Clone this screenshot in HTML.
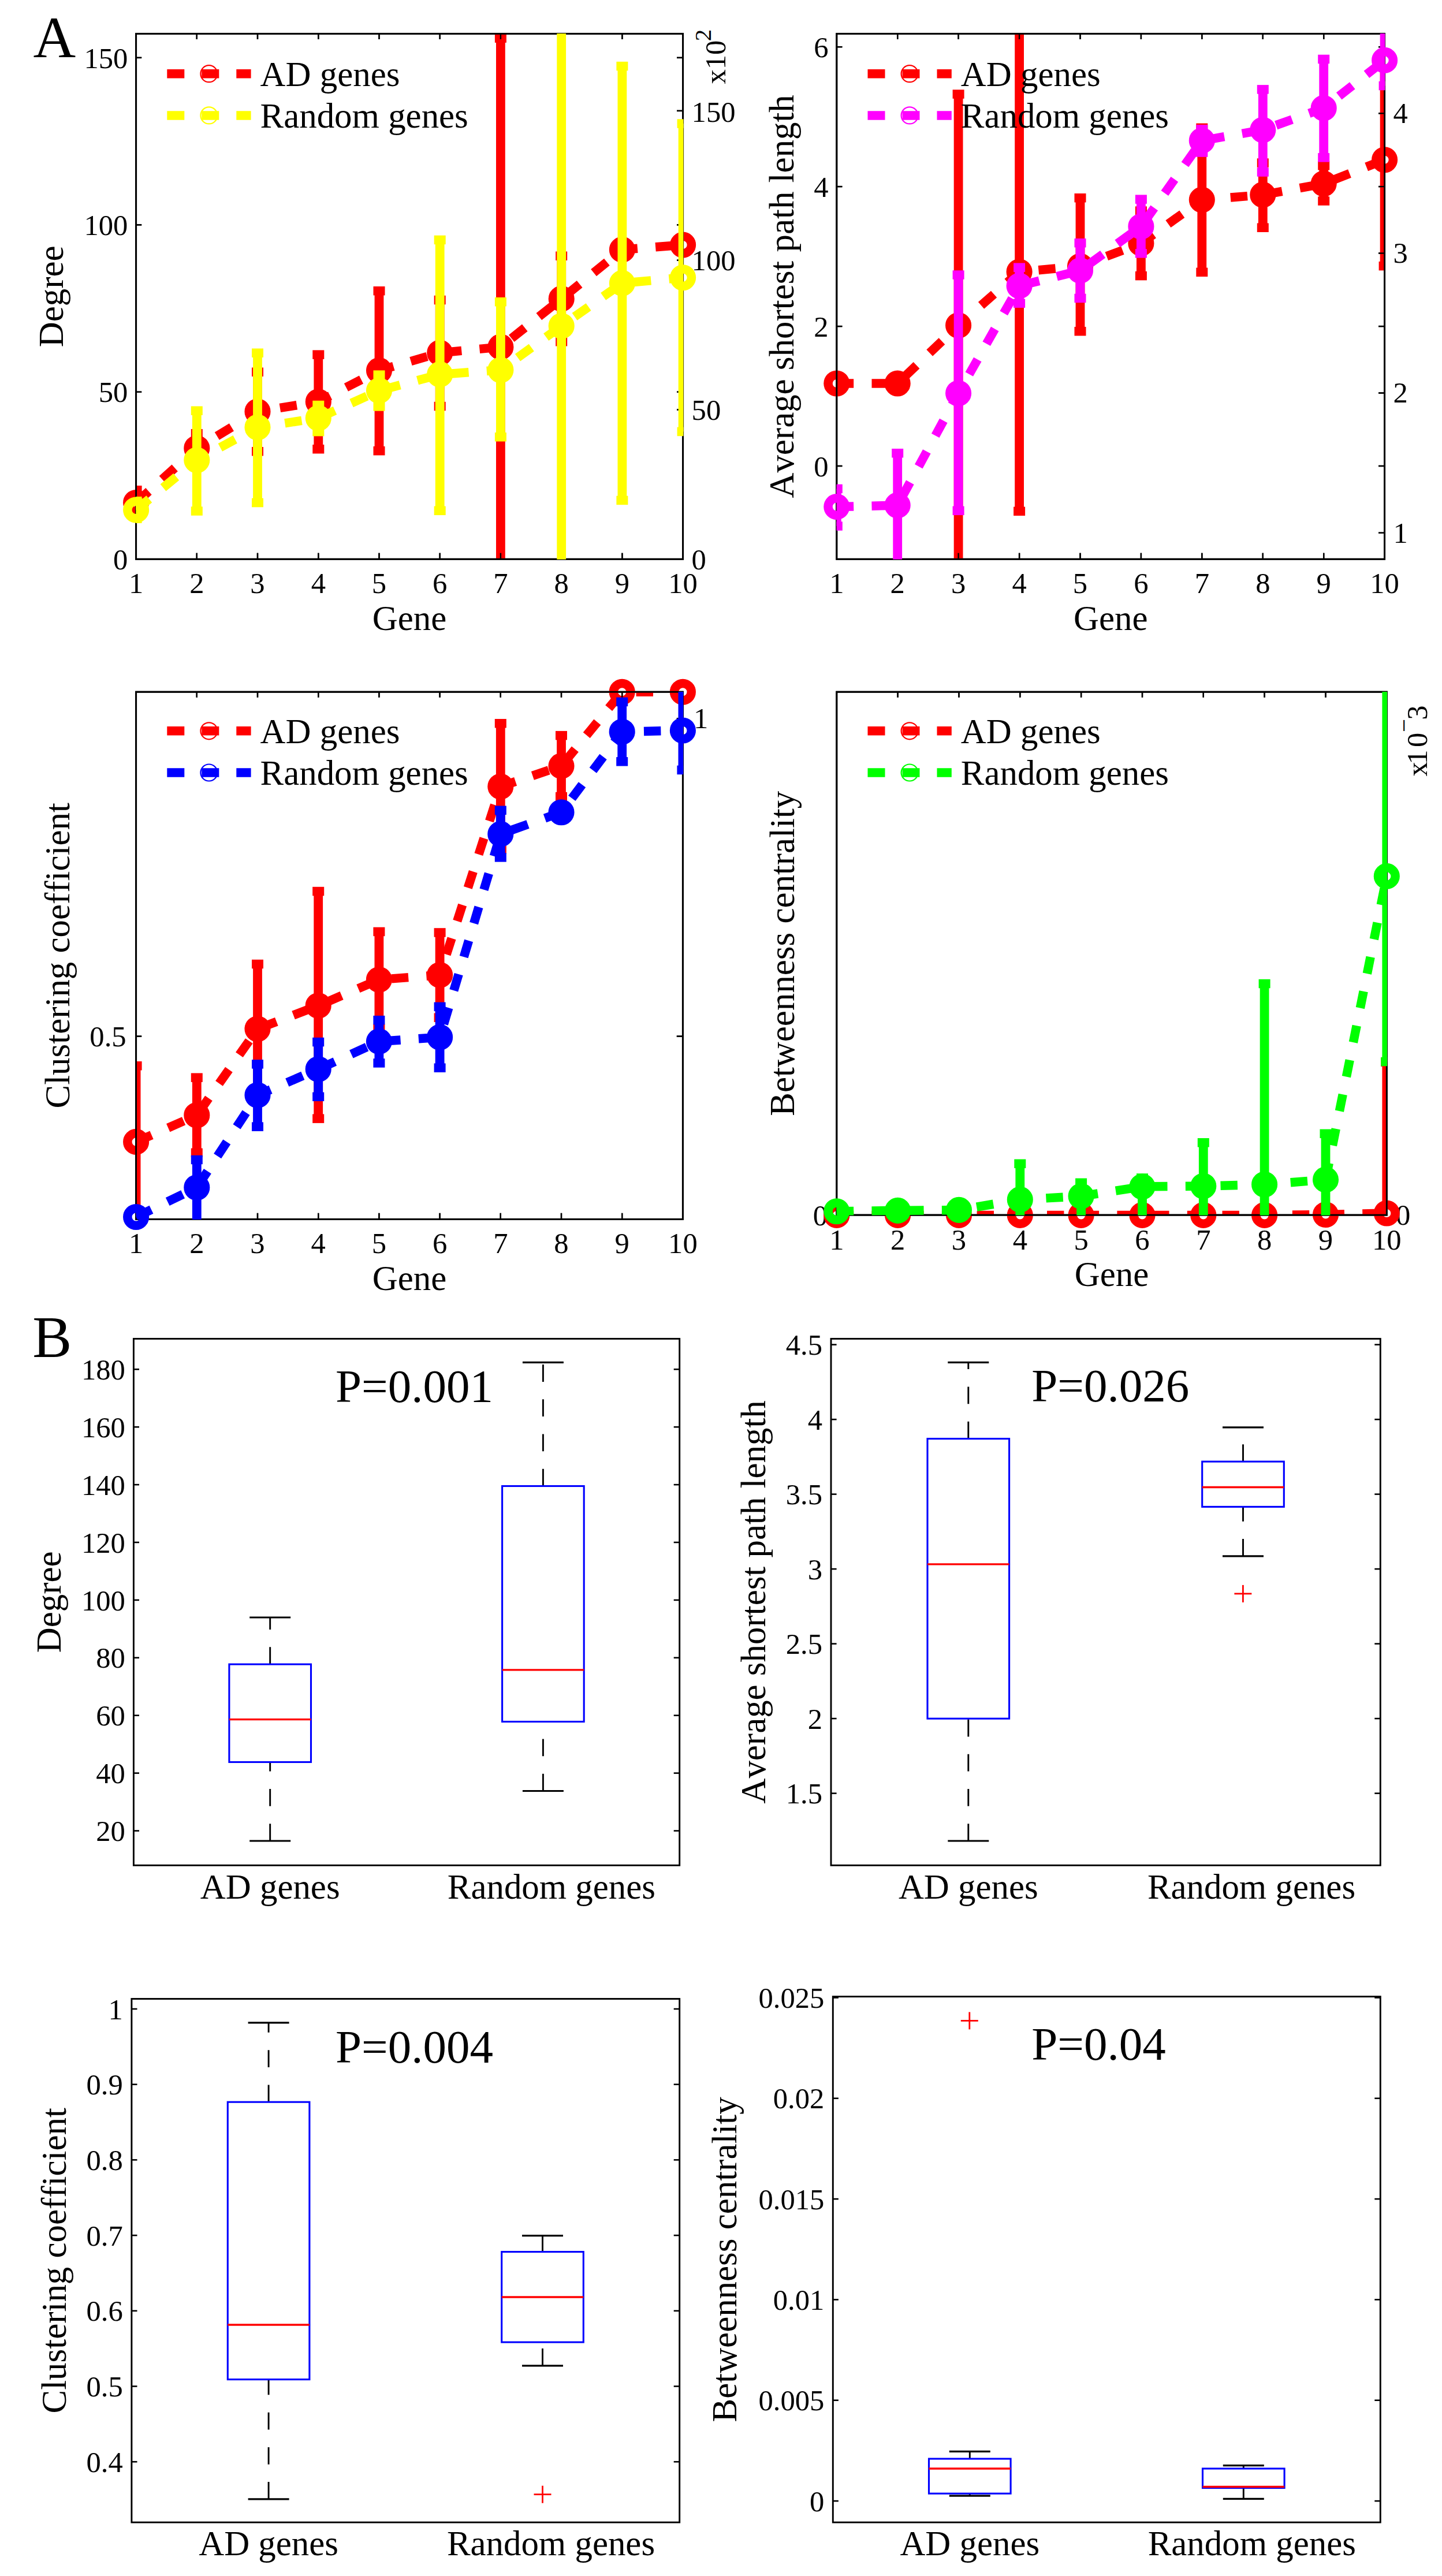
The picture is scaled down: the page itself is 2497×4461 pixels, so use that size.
<!DOCTYPE html>
<html><head><meta charset="utf-8"><title>Figure</title>
<style>html,body{margin:0;padding:0;background:#fff}svg{display:block}text{font-family:"Liberation Serif", serif;fill:#000;font-kerning:none;font-variant-ligatures:none}</style></head>
<body>
<svg width="2497" height="4461" viewBox="0 0 2497 4461">
<rect width="2497" height="4461" fill="#fff"/>
<defs><clipPath id="c1"><rect x="235.3" y="58.1" width="948.1" height="910.7"/></clipPath><clipPath id="c2"><rect x="1448.5" y="58.1" width="949.9" height="910.7"/></clipPath><clipPath id="c3"><rect x="235.3" y="1197.9" width="947.9" height="914"/></clipPath><clipPath id="c4"><rect x="1448.5" y="1197.9" width="953.6" height="906.7"/></clipPath></defs>
<rect x="235.6" y="58.4" width="947" height="909.9" fill="none" stroke="#000" stroke-width="2.9"/>
<line x1="340.8" y1="968.3" x2="340.8" y2="957.7" stroke="#000" stroke-width="2.4"/>
<line x1="340.8" y1="58.4" x2="340.8" y2="68" stroke="#000" stroke-width="2.4"/>
<line x1="446" y1="968.3" x2="446" y2="957.7" stroke="#000" stroke-width="2.4"/>
<line x1="446" y1="58.4" x2="446" y2="68" stroke="#000" stroke-width="2.4"/>
<line x1="551.3" y1="968.3" x2="551.3" y2="957.7" stroke="#000" stroke-width="2.4"/>
<line x1="551.3" y1="58.4" x2="551.3" y2="68" stroke="#000" stroke-width="2.4"/>
<line x1="656.5" y1="968.3" x2="656.5" y2="957.7" stroke="#000" stroke-width="2.4"/>
<line x1="656.5" y1="58.4" x2="656.5" y2="68" stroke="#000" stroke-width="2.4"/>
<line x1="761.7" y1="968.3" x2="761.7" y2="957.7" stroke="#000" stroke-width="2.4"/>
<line x1="761.7" y1="58.4" x2="761.7" y2="68" stroke="#000" stroke-width="2.4"/>
<line x1="866.9" y1="968.3" x2="866.9" y2="957.7" stroke="#000" stroke-width="2.4"/>
<line x1="866.9" y1="58.4" x2="866.9" y2="68" stroke="#000" stroke-width="2.4"/>
<line x1="972.2" y1="968.3" x2="972.2" y2="957.7" stroke="#000" stroke-width="2.4"/>
<line x1="972.2" y1="58.4" x2="972.2" y2="68" stroke="#000" stroke-width="2.4"/>
<line x1="1077.4" y1="968.3" x2="1077.4" y2="957.7" stroke="#000" stroke-width="2.4"/>
<line x1="1077.4" y1="58.4" x2="1077.4" y2="68" stroke="#000" stroke-width="2.4"/>
<line x1="235.6" y1="99.9" x2="245.2" y2="99.9" stroke="#000" stroke-width="2.4"/>
<line x1="1182.6" y1="99.9" x2="1172" y2="99.9" stroke="#000" stroke-width="2.4"/>
<line x1="235.6" y1="389.4" x2="245.2" y2="389.4" stroke="#000" stroke-width="2.4"/>
<line x1="1182.6" y1="389.4" x2="1172" y2="389.4" stroke="#000" stroke-width="2.4"/>
<line x1="235.6" y1="678.8" x2="245.2" y2="678.8" stroke="#000" stroke-width="2.4"/>
<line x1="1182.6" y1="678.8" x2="1172" y2="678.8" stroke="#000" stroke-width="2.4"/>
<line x1="1182.6" y1="191.9" x2="1172" y2="191.9" stroke="#000" stroke-width="2.4"/>
<line x1="1182.6" y1="450.7" x2="1172" y2="450.7" stroke="#000" stroke-width="2.4"/>
<line x1="1182.6" y1="709.5" x2="1172" y2="709.5" stroke="#000" stroke-width="2.4"/>
<text x="221.3" y="117.5" font-size="50.6" text-anchor="end">150</text>
<text x="221.3" y="407" font-size="50.6" text-anchor="end">100</text>
<text x="221.3" y="696.4" font-size="50.6" text-anchor="end">50</text>
<text x="221.3" y="985.9" font-size="50.6" text-anchor="end">0</text>
<text x="1197.6" y="210.7" font-size="50.6" text-anchor="start">150</text>
<text x="1197.6" y="467.5" font-size="50.6" text-anchor="start">100</text>
<text x="1197.6" y="727" font-size="50.6" text-anchor="start">50</text>
<text x="1197.6" y="985.6" font-size="50.6" text-anchor="start">0</text>
<text x="235.6" y="1027.2" font-size="50.6" text-anchor="middle">1</text>
<text x="340.8" y="1027.2" font-size="50.6" text-anchor="middle">2</text>
<text x="446" y="1027.2" font-size="50.6" text-anchor="middle">3</text>
<text x="551.3" y="1027.2" font-size="50.6" text-anchor="middle">4</text>
<text x="656.5" y="1027.2" font-size="50.6" text-anchor="middle">5</text>
<text x="761.7" y="1027.2" font-size="50.6" text-anchor="middle">6</text>
<text x="866.9" y="1027.2" font-size="50.6" text-anchor="middle">7</text>
<text x="972.2" y="1027.2" font-size="50.6" text-anchor="middle">8</text>
<text x="1077.4" y="1027.2" font-size="50.6" text-anchor="middle">9</text>
<text x="1182.6" y="1027.2" font-size="50.6" text-anchor="middle">10</text>
<g clip-path="url(#c1)" stroke="#ff0000" fill="#ff0000"><line x1="235.6" y1="848.8" x2="235.6" y2="892.2" stroke-width="15.8"/><rect x="225.6" y="841" width="20" height="15.5" stroke="none"/><rect x="225.6" y="884.5" width="20" height="15.5" stroke="none"/><line x1="340.8" y1="750.8" x2="340.8" y2="801.8" stroke-width="15.8"/><rect x="330.8" y="743" width="20" height="15.5" stroke="none"/><rect x="330.8" y="794" width="20" height="15.5" stroke="none"/><line x1="446" y1="644.2" x2="446" y2="781.8" stroke-width="15.8"/><rect x="436" y="636.5" width="20" height="15.5" stroke="none"/><rect x="436" y="774" width="20" height="15.5" stroke="none"/><line x1="551.3" y1="614.1" x2="551.3" y2="777.8" stroke-width="15.8"/><rect x="541.3" y="606.4" width="20" height="15.5" stroke="none"/><rect x="541.3" y="770" width="20" height="15.5" stroke="none"/><line x1="656.5" y1="503.8" x2="656.5" y2="780.8" stroke-width="15.8"/><rect x="646.5" y="496" width="20" height="15.5" stroke="none"/><rect x="646.5" y="773" width="20" height="15.5" stroke="none"/><line x1="761.7" y1="519.5" x2="761.7" y2="703.5" stroke-width="15.8"/><rect x="751.7" y="511.8" width="20" height="15.5" stroke="none"/><rect x="751.7" y="695.8" width="20" height="15.5" stroke="none"/><line x1="866.9" y1="66.2" x2="866.9" y2="1200" stroke-width="15.8"/><rect x="856.9" y="58.4" width="20" height="15.5" stroke="none"/><line x1="972.2" y1="443.2" x2="972.2" y2="591.8" stroke-width="15.8"/><rect x="962.2" y="435.5" width="20" height="15.5" stroke="none"/><rect x="962.2" y="584" width="20" height="15.5" stroke="none"/><line x1="1077.4" y1="422.8" x2="1077.4" y2="442.2" stroke-width="15.8"/><rect x="1067.4" y="415" width="20" height="15.5" stroke="none"/><rect x="1067.4" y="434.5" width="20" height="15.5" stroke="none"/><polyline points="235.6,870.5 340.8,776.3 446,712.7 551.3,695.7 656.5,641.6 761.7,611 866.9,600.9 972.2,517.4 1077.4,432.4 1182.6,424.1" fill="none" stroke-width="15.5" stroke-dasharray="29.4 31.3" stroke-linejoin="miter"/></g>
<g fill="none" stroke="#ff0000" stroke-width="15.5"><circle cx="235.6" cy="870.5" r="14.8"/><circle cx="340.8" cy="776.3" r="14.8"/><circle cx="446" cy="712.7" r="14.8"/><circle cx="551.3" cy="695.7" r="14.8"/><circle cx="656.5" cy="641.6" r="14.8"/><circle cx="761.7" cy="611" r="14.8"/><circle cx="866.9" cy="600.9" r="14.8"/><circle cx="972.2" cy="517.4" r="14.8"/><circle cx="1077.4" cy="432.4" r="14.8"/><circle cx="1182.6" cy="424.1" r="14.8"/></g>
<rect x="235.6" y="58.4" width="947" height="909.9" fill="none" stroke="#000" stroke-width="2.9"/>
<line x1="340.8" y1="968.3" x2="340.8" y2="957.7" stroke="#000" stroke-width="2.4"/>
<line x1="340.8" y1="58.4" x2="340.8" y2="68" stroke="#000" stroke-width="2.4"/>
<line x1="446" y1="968.3" x2="446" y2="957.7" stroke="#000" stroke-width="2.4"/>
<line x1="446" y1="58.4" x2="446" y2="68" stroke="#000" stroke-width="2.4"/>
<line x1="551.3" y1="968.3" x2="551.3" y2="957.7" stroke="#000" stroke-width="2.4"/>
<line x1="551.3" y1="58.4" x2="551.3" y2="68" stroke="#000" stroke-width="2.4"/>
<line x1="656.5" y1="968.3" x2="656.5" y2="957.7" stroke="#000" stroke-width="2.4"/>
<line x1="656.5" y1="58.4" x2="656.5" y2="68" stroke="#000" stroke-width="2.4"/>
<line x1="761.7" y1="968.3" x2="761.7" y2="957.7" stroke="#000" stroke-width="2.4"/>
<line x1="761.7" y1="58.4" x2="761.7" y2="68" stroke="#000" stroke-width="2.4"/>
<line x1="866.9" y1="968.3" x2="866.9" y2="957.7" stroke="#000" stroke-width="2.4"/>
<line x1="866.9" y1="58.4" x2="866.9" y2="68" stroke="#000" stroke-width="2.4"/>
<line x1="972.2" y1="968.3" x2="972.2" y2="957.7" stroke="#000" stroke-width="2.4"/>
<line x1="972.2" y1="58.4" x2="972.2" y2="68" stroke="#000" stroke-width="2.4"/>
<line x1="1077.4" y1="968.3" x2="1077.4" y2="957.7" stroke="#000" stroke-width="2.4"/>
<line x1="1077.4" y1="58.4" x2="1077.4" y2="68" stroke="#000" stroke-width="2.4"/>
<line x1="235.6" y1="99.9" x2="245.2" y2="99.9" stroke="#000" stroke-width="2.4"/>
<line x1="1182.6" y1="99.9" x2="1172" y2="99.9" stroke="#000" stroke-width="2.4"/>
<line x1="235.6" y1="389.4" x2="245.2" y2="389.4" stroke="#000" stroke-width="2.4"/>
<line x1="1182.6" y1="389.4" x2="1172" y2="389.4" stroke="#000" stroke-width="2.4"/>
<line x1="235.6" y1="678.8" x2="245.2" y2="678.8" stroke="#000" stroke-width="2.4"/>
<line x1="1182.6" y1="678.8" x2="1172" y2="678.8" stroke="#000" stroke-width="2.4"/>
<line x1="1182.6" y1="191.9" x2="1172" y2="191.9" stroke="#000" stroke-width="2.4"/>
<line x1="1182.6" y1="450.7" x2="1172" y2="450.7" stroke="#000" stroke-width="2.4"/>
<line x1="1182.6" y1="709.5" x2="1172" y2="709.5" stroke="#000" stroke-width="2.4"/>
<g clip-path="url(#c1)" stroke="#ffff00" fill="#ffff00"><line x1="235.6" y1="867.8" x2="235.6" y2="898.2" stroke-width="15.8"/><rect x="225.6" y="860" width="20" height="15.5" stroke="none"/><rect x="225.6" y="890.5" width="20" height="15.5" stroke="none"/><line x1="340.8" y1="711.2" x2="340.8" y2="885" stroke-width="15.8"/><rect x="330.8" y="703.5" width="20" height="15.5" stroke="none"/><rect x="330.8" y="877.3" width="20" height="15.5" stroke="none"/><line x1="446" y1="611.2" x2="446" y2="870.5" stroke-width="15.8"/><rect x="436" y="603.5" width="20" height="15.5" stroke="none"/><rect x="436" y="862.8" width="20" height="15.5" stroke="none"/><line x1="551.3" y1="701.5" x2="551.3" y2="747.6" stroke-width="15.8"/><rect x="541.3" y="693.8" width="20" height="15.5" stroke="none"/><rect x="541.3" y="739.9" width="20" height="15.5" stroke="none"/><line x1="656.5" y1="649.1" x2="656.5" y2="704" stroke-width="15.8"/><rect x="646.5" y="641.4" width="20" height="15.5" stroke="none"/><rect x="646.5" y="696.2" width="20" height="15.5" stroke="none"/><line x1="761.7" y1="415.4" x2="761.7" y2="884.4" stroke-width="15.8"/><rect x="751.7" y="407.7" width="20" height="15.5" stroke="none"/><rect x="751.7" y="876.6" width="20" height="15.5" stroke="none"/><line x1="866.9" y1="522.8" x2="866.9" y2="756.8" stroke-width="15.8"/><rect x="856.9" y="515" width="20" height="15.5" stroke="none"/><rect x="856.9" y="749" width="20" height="15.5" stroke="none"/><line x1="972.2" y1="-100" x2="972.2" y2="1200" stroke-width="15.8"/><line x1="1077.4" y1="114.5" x2="1077.4" y2="866.5" stroke-width="15.8"/><rect x="1067.4" y="106.8" width="20" height="15.5" stroke="none"/><rect x="1067.4" y="858.7" width="20" height="15.5" stroke="none"/><line x1="1182.6" y1="214.1" x2="1182.6" y2="747.5" stroke-width="15.8"/><rect x="1172.6" y="206.3" width="20" height="15.5" stroke="none"/><rect x="1172.6" y="739.7" width="20" height="15.5" stroke="none"/><polyline points="235.6,883 340.8,796.7 446,740 551.3,724 656.5,676.5 761.7,648.4 866.9,640.7 972.2,564.5 1077.4,490.4 1182.6,480.8" fill="none" stroke-width="15.5" stroke-dasharray="29.4 31.3" stroke-linejoin="miter"/></g>
<g fill="none" stroke="#ffff00" stroke-width="15.5"><circle cx="235.6" cy="883" r="14.8"/><circle cx="340.8" cy="796.7" r="14.8"/><circle cx="446" cy="740" r="14.8"/><circle cx="551.3" cy="724" r="14.8"/><circle cx="656.5" cy="676.5" r="14.8"/><circle cx="761.7" cy="648.4" r="14.8"/><circle cx="866.9" cy="640.7" r="14.8"/><circle cx="972.2" cy="564.5" r="14.8"/><circle cx="1077.4" cy="490.4" r="14.8"/><circle cx="1182.6" cy="480.8" r="14.8"/></g>
<text x="709.1" y="1090.7" font-size="60.9" text-anchor="middle">Gene</text>
<text x="108.8" y="513.4" font-size="60.9" text-anchor="middle" transform="rotate(-90 108.8 513.4)">Degree</text>
<line x1="289.3" y1="127.7" x2="434.6" y2="127.7" stroke="#ff0000" stroke-width="15.5" stroke-dasharray="30 30"/>
<circle cx="361.9" cy="127.7" r="14.5" fill="none" stroke="#ff0000" stroke-width="2.2"/>
<text x="450.6" y="148.7" font-size="60.9" text-anchor="start">AD genes</text>
<line x1="289.3" y1="199.9" x2="434.6" y2="199.9" stroke="#ffff00" stroke-width="15.5" stroke-dasharray="30 30"/>
<circle cx="361.9" cy="199.9" r="14.5" fill="none" stroke="#ffff00" stroke-width="2.2"/>
<text x="450.6" y="220.9" font-size="60.9" text-anchor="start">Random genes</text>
<text x="1255.6" y="145.5" font-size="50.6" text-anchor="start" transform="rotate(-90 1255.6 145.5)">x10<tspan font-size="41" dy="-24.7" dx="-1.7">2</tspan></text>
<rect x="1448.8" y="58.4" width="948.8" height="909.9" fill="none" stroke="#000" stroke-width="2.9"/>
<line x1="1554.2" y1="968.3" x2="1554.2" y2="957.7" stroke="#000" stroke-width="2.4"/>
<line x1="1554.2" y1="58.4" x2="1554.2" y2="68" stroke="#000" stroke-width="2.4"/>
<line x1="1659.6" y1="968.3" x2="1659.6" y2="957.7" stroke="#000" stroke-width="2.4"/>
<line x1="1659.6" y1="58.4" x2="1659.6" y2="68" stroke="#000" stroke-width="2.4"/>
<line x1="1765.1" y1="968.3" x2="1765.1" y2="957.7" stroke="#000" stroke-width="2.4"/>
<line x1="1765.1" y1="58.4" x2="1765.1" y2="68" stroke="#000" stroke-width="2.4"/>
<line x1="1870.5" y1="968.3" x2="1870.5" y2="957.7" stroke="#000" stroke-width="2.4"/>
<line x1="1870.5" y1="58.4" x2="1870.5" y2="68" stroke="#000" stroke-width="2.4"/>
<line x1="1975.9" y1="968.3" x2="1975.9" y2="957.7" stroke="#000" stroke-width="2.4"/>
<line x1="1975.9" y1="58.4" x2="1975.9" y2="68" stroke="#000" stroke-width="2.4"/>
<line x1="2081.3" y1="968.3" x2="2081.3" y2="957.7" stroke="#000" stroke-width="2.4"/>
<line x1="2081.3" y1="58.4" x2="2081.3" y2="68" stroke="#000" stroke-width="2.4"/>
<line x1="2186.8" y1="968.3" x2="2186.8" y2="957.7" stroke="#000" stroke-width="2.4"/>
<line x1="2186.8" y1="58.4" x2="2186.8" y2="68" stroke="#000" stroke-width="2.4"/>
<line x1="2292.2" y1="968.3" x2="2292.2" y2="957.7" stroke="#000" stroke-width="2.4"/>
<line x1="2292.2" y1="58.4" x2="2292.2" y2="68" stroke="#000" stroke-width="2.4"/>
<line x1="1448.8" y1="81.2" x2="1458.4" y2="81.2" stroke="#000" stroke-width="2.4"/>
<line x1="2397.6" y1="81.2" x2="2387" y2="81.2" stroke="#000" stroke-width="2.4"/>
<line x1="1448.8" y1="323.1" x2="1458.4" y2="323.1" stroke="#000" stroke-width="2.4"/>
<line x1="2397.6" y1="323.1" x2="2387" y2="323.1" stroke="#000" stroke-width="2.4"/>
<line x1="1448.8" y1="565.1" x2="1458.4" y2="565.1" stroke="#000" stroke-width="2.4"/>
<line x1="2397.6" y1="565.1" x2="2387" y2="565.1" stroke="#000" stroke-width="2.4"/>
<line x1="1448.8" y1="807" x2="1458.4" y2="807" stroke="#000" stroke-width="2.4"/>
<line x1="2397.6" y1="807" x2="2387" y2="807" stroke="#000" stroke-width="2.4"/>
<line x1="2397.6" y1="196.3" x2="2387" y2="196.3" stroke="#000" stroke-width="2.4"/>
<line x1="2397.6" y1="438.5" x2="2387" y2="438.5" stroke="#000" stroke-width="2.4"/>
<line x1="2397.6" y1="680.6" x2="2387" y2="680.6" stroke="#000" stroke-width="2.4"/>
<line x1="2397.6" y1="922.8" x2="2387" y2="922.8" stroke="#000" stroke-width="2.4"/>
<text x="1434.5" y="98.8" font-size="50.6" text-anchor="end">6</text>
<text x="1434.5" y="340.7" font-size="50.6" text-anchor="end">4</text>
<text x="1434.5" y="582.7" font-size="50.6" text-anchor="end">2</text>
<text x="1434.5" y="824.6" font-size="50.6" text-anchor="end">0</text>
<text x="2412.6" y="213.1" font-size="50.6" text-anchor="start">4</text>
<text x="2412.6" y="455.3" font-size="50.6" text-anchor="start">3</text>
<text x="2412.6" y="697.4" font-size="50.6" text-anchor="start">2</text>
<text x="2412.6" y="939.5" font-size="50.6" text-anchor="start">1</text>
<text x="1448.8" y="1027.2" font-size="50.6" text-anchor="middle">1</text>
<text x="1554.2" y="1027.2" font-size="50.6" text-anchor="middle">2</text>
<text x="1659.6" y="1027.2" font-size="50.6" text-anchor="middle">3</text>
<text x="1765.1" y="1027.2" font-size="50.6" text-anchor="middle">4</text>
<text x="1870.5" y="1027.2" font-size="50.6" text-anchor="middle">5</text>
<text x="1975.9" y="1027.2" font-size="50.6" text-anchor="middle">6</text>
<text x="2081.3" y="1027.2" font-size="50.6" text-anchor="middle">7</text>
<text x="2186.8" y="1027.2" font-size="50.6" text-anchor="middle">8</text>
<text x="2292.2" y="1027.2" font-size="50.6" text-anchor="middle">9</text>
<text x="2397.6" y="1027.2" font-size="50.6" text-anchor="middle">10</text>
<g clip-path="url(#c2)" stroke="#ff0000" fill="#ff0000"><line x1="1448.8" y1="658.2" x2="1448.8" y2="669.8" stroke-width="15.8"/><rect x="1438.8" y="650.5" width="20" height="15.5" stroke="none"/><rect x="1438.8" y="662" width="20" height="15.5" stroke="none"/><line x1="1554.2" y1="658.2" x2="1554.2" y2="669.8" stroke-width="15.8"/><rect x="1544.2" y="650.5" width="20" height="15.5" stroke="none"/><rect x="1544.2" y="662" width="20" height="15.5" stroke="none"/><line x1="1659.6" y1="163.1" x2="1659.6" y2="1200" stroke-width="15.8"/><rect x="1649.6" y="155.3" width="20" height="15.5" stroke="none"/><line x1="1765.1" y1="-100" x2="1765.1" y2="885.4" stroke-width="15.8"/><rect x="1755.1" y="877.6" width="20" height="15.5" stroke="none"/><line x1="1870.5" y1="342.8" x2="1870.5" y2="573.8" stroke-width="15.8"/><rect x="1860.5" y="335" width="20" height="15.5" stroke="none"/><rect x="1860.5" y="566" width="20" height="15.5" stroke="none"/><line x1="1975.9" y1="365.1" x2="1975.9" y2="477.6" stroke-width="15.8"/><rect x="1965.9" y="357.4" width="20" height="15.5" stroke="none"/><rect x="1965.9" y="469.9" width="20" height="15.5" stroke="none"/><line x1="2081.3" y1="221.3" x2="2081.3" y2="471.4" stroke-width="15.8"/><rect x="2071.3" y="213.6" width="20" height="15.5" stroke="none"/><rect x="2071.3" y="463.6" width="20" height="15.5" stroke="none"/><line x1="2186.8" y1="282.1" x2="2186.8" y2="394.2" stroke-width="15.8"/><rect x="2176.8" y="274.3" width="20" height="15.5" stroke="none"/><rect x="2176.8" y="386.5" width="20" height="15.5" stroke="none"/><line x1="2292.2" y1="286.8" x2="2292.2" y2="348.1" stroke-width="15.8"/><rect x="2282.2" y="279" width="20" height="15.5" stroke="none"/><rect x="2282.2" y="340.3" width="20" height="15.5" stroke="none"/><line x1="2397.6" y1="92.8" x2="2397.6" y2="460.6" stroke-width="15.8"/><rect x="2387.6" y="85" width="20" height="15.5" stroke="none"/><rect x="2387.6" y="452.9" width="20" height="15.5" stroke="none"/><polyline points="1448.8,664 1554.2,664 1659.6,563.5 1765.1,470.8 1870.5,461 1975.9,421.4 2081.3,346.1 2186.8,337.4 2292.2,318 2397.6,276.7" fill="none" stroke-width="15.5" stroke-dasharray="29.4 31.3" stroke-linejoin="miter"/></g>
<g fill="none" stroke="#ff0000" stroke-width="15.5"><circle cx="1448.8" cy="664" r="14.8"/><circle cx="1554.2" cy="664" r="14.8"/><circle cx="1659.6" cy="563.5" r="14.8"/><circle cx="1765.1" cy="470.8" r="14.8"/><circle cx="1870.5" cy="461" r="14.8"/><circle cx="1975.9" cy="421.4" r="14.8"/><circle cx="2081.3" cy="346.1" r="14.8"/><circle cx="2186.8" cy="337.4" r="14.8"/><circle cx="2292.2" cy="318" r="14.8"/><circle cx="2397.6" cy="276.7" r="14.8"/></g>
<rect x="1448.8" y="58.4" width="948.8" height="909.9" fill="none" stroke="#000" stroke-width="2.9"/>
<line x1="1554.2" y1="968.3" x2="1554.2" y2="957.7" stroke="#000" stroke-width="2.4"/>
<line x1="1554.2" y1="58.4" x2="1554.2" y2="68" stroke="#000" stroke-width="2.4"/>
<line x1="1659.6" y1="968.3" x2="1659.6" y2="957.7" stroke="#000" stroke-width="2.4"/>
<line x1="1659.6" y1="58.4" x2="1659.6" y2="68" stroke="#000" stroke-width="2.4"/>
<line x1="1765.1" y1="968.3" x2="1765.1" y2="957.7" stroke="#000" stroke-width="2.4"/>
<line x1="1765.1" y1="58.4" x2="1765.1" y2="68" stroke="#000" stroke-width="2.4"/>
<line x1="1870.5" y1="968.3" x2="1870.5" y2="957.7" stroke="#000" stroke-width="2.4"/>
<line x1="1870.5" y1="58.4" x2="1870.5" y2="68" stroke="#000" stroke-width="2.4"/>
<line x1="1975.9" y1="968.3" x2="1975.9" y2="957.7" stroke="#000" stroke-width="2.4"/>
<line x1="1975.9" y1="58.4" x2="1975.9" y2="68" stroke="#000" stroke-width="2.4"/>
<line x1="2081.3" y1="968.3" x2="2081.3" y2="957.7" stroke="#000" stroke-width="2.4"/>
<line x1="2081.3" y1="58.4" x2="2081.3" y2="68" stroke="#000" stroke-width="2.4"/>
<line x1="2186.8" y1="968.3" x2="2186.8" y2="957.7" stroke="#000" stroke-width="2.4"/>
<line x1="2186.8" y1="58.4" x2="2186.8" y2="68" stroke="#000" stroke-width="2.4"/>
<line x1="2292.2" y1="968.3" x2="2292.2" y2="957.7" stroke="#000" stroke-width="2.4"/>
<line x1="2292.2" y1="58.4" x2="2292.2" y2="68" stroke="#000" stroke-width="2.4"/>
<line x1="1448.8" y1="81.2" x2="1458.4" y2="81.2" stroke="#000" stroke-width="2.4"/>
<line x1="2397.6" y1="81.2" x2="2387" y2="81.2" stroke="#000" stroke-width="2.4"/>
<line x1="1448.8" y1="323.1" x2="1458.4" y2="323.1" stroke="#000" stroke-width="2.4"/>
<line x1="2397.6" y1="323.1" x2="2387" y2="323.1" stroke="#000" stroke-width="2.4"/>
<line x1="1448.8" y1="565.1" x2="1458.4" y2="565.1" stroke="#000" stroke-width="2.4"/>
<line x1="2397.6" y1="565.1" x2="2387" y2="565.1" stroke="#000" stroke-width="2.4"/>
<line x1="1448.8" y1="807" x2="1458.4" y2="807" stroke="#000" stroke-width="2.4"/>
<line x1="2397.6" y1="807" x2="2387" y2="807" stroke="#000" stroke-width="2.4"/>
<line x1="2397.6" y1="196.3" x2="2387" y2="196.3" stroke="#000" stroke-width="2.4"/>
<line x1="2397.6" y1="438.5" x2="2387" y2="438.5" stroke="#000" stroke-width="2.4"/>
<line x1="2397.6" y1="680.6" x2="2387" y2="680.6" stroke="#000" stroke-width="2.4"/>
<line x1="2397.6" y1="922.8" x2="2387" y2="922.8" stroke="#000" stroke-width="2.4"/>
<g clip-path="url(#c2)" stroke="#ff00ff" fill="#ff00ff"><line x1="1448.8" y1="846.5" x2="1448.8" y2="911" stroke-width="15.8"/><rect x="1438.8" y="838.7" width="20" height="15.5" stroke="none"/><rect x="1438.8" y="903.3" width="20" height="15.5" stroke="none"/><line x1="1554.2" y1="784.8" x2="1554.2" y2="1200" stroke-width="15.8"/><rect x="1544.2" y="777" width="20" height="15.5" stroke="none"/><line x1="1659.6" y1="476.1" x2="1659.6" y2="884.4" stroke-width="15.8"/><rect x="1649.6" y="468.3" width="20" height="15.5" stroke="none"/><rect x="1649.6" y="876.6" width="20" height="15.5" stroke="none"/><line x1="1765.1" y1="463.2" x2="1765.1" y2="525.2" stroke-width="15.8"/><rect x="1755.1" y="455.5" width="20" height="15.5" stroke="none"/><rect x="1755.1" y="517.5" width="20" height="15.5" stroke="none"/><line x1="1870.5" y1="420.8" x2="1870.5" y2="516.5" stroke-width="15.8"/><rect x="1860.5" y="413" width="20" height="15.5" stroke="none"/><rect x="1860.5" y="508.7" width="20" height="15.5" stroke="none"/><line x1="1975.9" y1="345.1" x2="1975.9" y2="438.9" stroke-width="15.8"/><rect x="1965.9" y="337.4" width="20" height="15.5" stroke="none"/><rect x="1965.9" y="431.1" width="20" height="15.5" stroke="none"/><line x1="2081.3" y1="223.8" x2="2081.3" y2="264.1" stroke-width="15.8"/><rect x="2071.3" y="216" width="20" height="15.5" stroke="none"/><rect x="2071.3" y="256.3" width="20" height="15.5" stroke="none"/><line x1="2186.8" y1="154.8" x2="2186.8" y2="298.1" stroke-width="15.8"/><rect x="2176.8" y="147.1" width="20" height="15.5" stroke="none"/><rect x="2176.8" y="290.3" width="20" height="15.5" stroke="none"/><line x1="2292.2" y1="102.5" x2="2292.2" y2="272.9" stroke-width="15.8"/><rect x="2282.2" y="94.7" width="20" height="15.5" stroke="none"/><rect x="2282.2" y="265.1" width="20" height="15.5" stroke="none"/><line x1="2397.6" y1="-100" x2="2397.6" y2="148.6" stroke-width="15.8"/><rect x="2387.6" y="140.8" width="20" height="15.5" stroke="none"/><polyline points="1448.8,877.6 1554.2,875.1 1659.6,681 1765.1,495 1870.5,468.6 1975.9,392.2 2081.3,243.5 2186.8,225 2292.2,187.3 2397.6,104.4" fill="none" stroke-width="15.5" stroke-dasharray="29.4 31.3" stroke-linejoin="miter"/></g>
<g fill="none" stroke="#ff00ff" stroke-width="15.5"><circle cx="1448.8" cy="877.6" r="14.8"/><circle cx="1554.2" cy="875.1" r="14.8"/><circle cx="1659.6" cy="681" r="14.8"/><circle cx="1765.1" cy="495" r="14.8"/><circle cx="1870.5" cy="468.6" r="14.8"/><circle cx="1975.9" cy="392.2" r="14.8"/><circle cx="2081.3" cy="243.5" r="14.8"/><circle cx="2186.8" cy="225" r="14.8"/><circle cx="2292.2" cy="187.3" r="14.8"/><circle cx="2397.6" cy="104.4" r="14.8"/></g>
<text x="1923.2" y="1090.7" font-size="60.9" text-anchor="middle">Gene</text>
<text x="1374.5" y="513.4" font-size="60.9" text-anchor="middle" transform="rotate(-90 1374.5 513.4)">Average shortest path length</text>
<line x1="1502.5" y1="127.7" x2="1647.8" y2="127.7" stroke="#ff0000" stroke-width="15.5" stroke-dasharray="30 30"/>
<circle cx="1575.1" cy="127.7" r="14.5" fill="none" stroke="#ff0000" stroke-width="2.2"/>
<text x="1663.8" y="148.7" font-size="60.9" text-anchor="start">AD genes</text>
<line x1="1502.5" y1="199.9" x2="1647.8" y2="199.9" stroke="#ff00ff" stroke-width="15.5" stroke-dasharray="30 30"/>
<circle cx="1575.1" cy="199.9" r="14.5" fill="none" stroke="#ff00ff" stroke-width="2.2"/>
<text x="1663.8" y="220.9" font-size="60.9" text-anchor="start">Random genes</text>
<rect x="235.6" y="1198.2" width="946.8" height="913.2" fill="none" stroke="#000" stroke-width="2.9"/>
<line x1="340.8" y1="2111.4" x2="340.8" y2="2100.8" stroke="#000" stroke-width="2.4"/>
<line x1="340.8" y1="1198.2" x2="340.8" y2="1207.8" stroke="#000" stroke-width="2.4"/>
<line x1="446" y1="2111.4" x2="446" y2="2100.8" stroke="#000" stroke-width="2.4"/>
<line x1="446" y1="1198.2" x2="446" y2="1207.8" stroke="#000" stroke-width="2.4"/>
<line x1="551.2" y1="2111.4" x2="551.2" y2="2100.8" stroke="#000" stroke-width="2.4"/>
<line x1="551.2" y1="1198.2" x2="551.2" y2="1207.8" stroke="#000" stroke-width="2.4"/>
<line x1="656.4" y1="2111.4" x2="656.4" y2="2100.8" stroke="#000" stroke-width="2.4"/>
<line x1="656.4" y1="1198.2" x2="656.4" y2="1207.8" stroke="#000" stroke-width="2.4"/>
<line x1="761.6" y1="2111.4" x2="761.6" y2="2100.8" stroke="#000" stroke-width="2.4"/>
<line x1="761.6" y1="1198.2" x2="761.6" y2="1207.8" stroke="#000" stroke-width="2.4"/>
<line x1="866.8" y1="2111.4" x2="866.8" y2="2100.8" stroke="#000" stroke-width="2.4"/>
<line x1="866.8" y1="1198.2" x2="866.8" y2="1207.8" stroke="#000" stroke-width="2.4"/>
<line x1="972" y1="2111.4" x2="972" y2="2100.8" stroke="#000" stroke-width="2.4"/>
<line x1="972" y1="1198.2" x2="972" y2="1207.8" stroke="#000" stroke-width="2.4"/>
<line x1="1077.2" y1="2111.4" x2="1077.2" y2="2100.8" stroke="#000" stroke-width="2.4"/>
<line x1="1077.2" y1="1198.2" x2="1077.2" y2="1207.8" stroke="#000" stroke-width="2.4"/>
<line x1="235.6" y1="1794.6" x2="245.2" y2="1794.6" stroke="#000" stroke-width="2.4"/>
<line x1="1182.4" y1="1794.6" x2="1171.8" y2="1794.6" stroke="#000" stroke-width="2.4"/>
<line x1="1182.4" y1="1244.5" x2="1171.8" y2="1244.5" stroke="#000" stroke-width="2.4"/>
<text x="218.6" y="1812.2" font-size="50.6" text-anchor="end">0.5</text>
<text x="1200.9" y="1261.3" font-size="50.6" text-anchor="start">1</text>
<text x="235.6" y="2170.3" font-size="50.6" text-anchor="middle">1</text>
<text x="340.8" y="2170.3" font-size="50.6" text-anchor="middle">2</text>
<text x="446" y="2170.3" font-size="50.6" text-anchor="middle">3</text>
<text x="551.2" y="2170.3" font-size="50.6" text-anchor="middle">4</text>
<text x="656.4" y="2170.3" font-size="50.6" text-anchor="middle">5</text>
<text x="761.6" y="2170.3" font-size="50.6" text-anchor="middle">6</text>
<text x="866.8" y="2170.3" font-size="50.6" text-anchor="middle">7</text>
<text x="972" y="2170.3" font-size="50.6" text-anchor="middle">8</text>
<text x="1077.2" y="2170.3" font-size="50.6" text-anchor="middle">9</text>
<text x="1182.4" y="2170.3" font-size="50.6" text-anchor="middle">10</text>
<g clip-path="url(#c3)" stroke="#ff0000" fill="#ff0000"><line x1="235.6" y1="1845.8" x2="235.6" y2="2300" stroke-width="15.8"/><rect x="225.6" y="1838" width="20" height="15.5" stroke="none"/><line x1="340.8" y1="1866.2" x2="340.8" y2="1996.2" stroke-width="15.8"/><rect x="330.8" y="1858.4" width="20" height="15.5" stroke="none"/><rect x="330.8" y="1988.5" width="20" height="15.5" stroke="none"/><line x1="446" y1="1669.5" x2="446" y2="1893.8" stroke-width="15.8"/><rect x="436" y="1661.8" width="20" height="15.5" stroke="none"/><rect x="436" y="1886.1" width="20" height="15.5" stroke="none"/><line x1="551.2" y1="1543.5" x2="551.2" y2="1937.2" stroke-width="15.8"/><rect x="541.2" y="1535.8" width="20" height="15.5" stroke="none"/><rect x="541.2" y="1929.4" width="20" height="15.5" stroke="none"/><line x1="656.4" y1="1613.5" x2="656.4" y2="1781.2" stroke-width="15.8"/><rect x="646.4" y="1605.7" width="20" height="15.5" stroke="none"/><rect x="646.4" y="1773.5" width="20" height="15.5" stroke="none"/><line x1="761.6" y1="1615" x2="761.6" y2="1762.2" stroke-width="15.8"/><rect x="751.6" y="1607.2" width="20" height="15.5" stroke="none"/><rect x="751.6" y="1754.5" width="20" height="15.5" stroke="none"/><line x1="866.8" y1="1252.8" x2="866.8" y2="1471.2" stroke-width="15.8"/><rect x="856.8" y="1245" width="20" height="15.5" stroke="none"/><rect x="856.8" y="1463.5" width="20" height="15.5" stroke="none"/><line x1="972" y1="1273.7" x2="972" y2="1379.5" stroke-width="15.8"/><rect x="962" y="1265.9" width="20" height="15.5" stroke="none"/><rect x="962" y="1371.8" width="20" height="15.5" stroke="none"/><polyline points="235.6,1977.4 340.8,1931.3 446,1781.7 551.2,1741.5 656.4,1696.5 761.6,1688.5 866.8,1362 972,1326.6 1077.2,1198.2 1182.4,1198.2" fill="none" stroke-width="15.5" stroke-dasharray="29.4 31.3" stroke-linejoin="miter"/></g>
<g fill="none" stroke="#ff0000" stroke-width="15.5"><circle cx="235.6" cy="1977.4" r="14.8"/><circle cx="340.8" cy="1931.3" r="14.8"/><circle cx="446" cy="1781.7" r="14.8"/><circle cx="551.2" cy="1741.5" r="14.8"/><circle cx="656.4" cy="1696.5" r="14.8"/><circle cx="761.6" cy="1688.5" r="14.8"/><circle cx="866.8" cy="1362" r="14.8"/><circle cx="972" cy="1326.6" r="14.8"/><circle cx="1077.2" cy="1198.2" r="14.8"/><circle cx="1182.4" cy="1198.2" r="14.8"/></g>
<rect x="235.6" y="1198.2" width="946.8" height="913.2" fill="none" stroke="#000" stroke-width="2.9"/>
<line x1="340.8" y1="2111.4" x2="340.8" y2="2100.8" stroke="#000" stroke-width="2.4"/>
<line x1="340.8" y1="1198.2" x2="340.8" y2="1207.8" stroke="#000" stroke-width="2.4"/>
<line x1="446" y1="2111.4" x2="446" y2="2100.8" stroke="#000" stroke-width="2.4"/>
<line x1="446" y1="1198.2" x2="446" y2="1207.8" stroke="#000" stroke-width="2.4"/>
<line x1="551.2" y1="2111.4" x2="551.2" y2="2100.8" stroke="#000" stroke-width="2.4"/>
<line x1="551.2" y1="1198.2" x2="551.2" y2="1207.8" stroke="#000" stroke-width="2.4"/>
<line x1="656.4" y1="2111.4" x2="656.4" y2="2100.8" stroke="#000" stroke-width="2.4"/>
<line x1="656.4" y1="1198.2" x2="656.4" y2="1207.8" stroke="#000" stroke-width="2.4"/>
<line x1="761.6" y1="2111.4" x2="761.6" y2="2100.8" stroke="#000" stroke-width="2.4"/>
<line x1="761.6" y1="1198.2" x2="761.6" y2="1207.8" stroke="#000" stroke-width="2.4"/>
<line x1="866.8" y1="2111.4" x2="866.8" y2="2100.8" stroke="#000" stroke-width="2.4"/>
<line x1="866.8" y1="1198.2" x2="866.8" y2="1207.8" stroke="#000" stroke-width="2.4"/>
<line x1="972" y1="2111.4" x2="972" y2="2100.8" stroke="#000" stroke-width="2.4"/>
<line x1="972" y1="1198.2" x2="972" y2="1207.8" stroke="#000" stroke-width="2.4"/>
<line x1="1077.2" y1="2111.4" x2="1077.2" y2="2100.8" stroke="#000" stroke-width="2.4"/>
<line x1="1077.2" y1="1198.2" x2="1077.2" y2="1207.8" stroke="#000" stroke-width="2.4"/>
<line x1="235.6" y1="1794.6" x2="245.2" y2="1794.6" stroke="#000" stroke-width="2.4"/>
<line x1="1182.4" y1="1794.6" x2="1171.8" y2="1794.6" stroke="#000" stroke-width="2.4"/>
<line x1="1182.4" y1="1244.5" x2="1171.8" y2="1244.5" stroke="#000" stroke-width="2.4"/>
<g clip-path="url(#c3)" stroke="#0000ff" fill="#0000ff"><line x1="340.8" y1="2008.5" x2="340.8" y2="2300" stroke-width="15.8"/><rect x="330.8" y="2000.7" width="20" height="15.5" stroke="none"/><line x1="446" y1="1842.8" x2="446" y2="1951.2" stroke-width="15.8"/><rect x="436" y="1835.1" width="20" height="15.5" stroke="none"/><rect x="436" y="1943.4" width="20" height="15.5" stroke="none"/><line x1="551.2" y1="1804.5" x2="551.2" y2="1899.2" stroke-width="15.8"/><rect x="541.2" y="1796.8" width="20" height="15.5" stroke="none"/><rect x="541.2" y="1891.5" width="20" height="15.5" stroke="none"/><line x1="656.4" y1="1766.7" x2="656.4" y2="1841" stroke-width="15.8"/><rect x="646.4" y="1758.9" width="20" height="15.5" stroke="none"/><rect x="646.4" y="1833.2" width="20" height="15.5" stroke="none"/><line x1="761.6" y1="1743.3" x2="761.6" y2="1849.2" stroke-width="15.8"/><rect x="751.6" y="1735.6" width="20" height="15.5" stroke="none"/><rect x="751.6" y="1841.5" width="20" height="15.5" stroke="none"/><line x1="866.8" y1="1403.2" x2="866.8" y2="1484.8" stroke-width="15.8"/><rect x="856.8" y="1395.5" width="20" height="15.5" stroke="none"/><rect x="856.8" y="1477.1" width="20" height="15.5" stroke="none"/><line x1="972" y1="1399.8" x2="972" y2="1413.8" stroke-width="15.8"/><rect x="962" y="1392" width="20" height="15.5" stroke="none"/><rect x="962" y="1406" width="20" height="15.5" stroke="none"/><line x1="1077.2" y1="1215.5" x2="1077.2" y2="1318.8" stroke-width="15.8"/><rect x="1067.2" y="1207.7" width="20" height="15.5" stroke="none"/><rect x="1067.2" y="1311.1" width="20" height="15.5" stroke="none"/><line x1="1182.4" y1="1100" x2="1182.4" y2="1333.5" stroke-width="15.8"/><rect x="1172.4" y="1325.7" width="20" height="15.5" stroke="none"/><polyline points="235.6,2107.5 340.8,2056.5 446,1896.5 551.2,1851.5 656.4,1803.6 761.6,1796.3 866.8,1444.4 972,1406.7 1077.2,1267.2 1182.4,1265" fill="none" stroke-width="15.5" stroke-dasharray="29.4 31.3" stroke-linejoin="miter"/></g>
<g fill="none" stroke="#0000ff" stroke-width="15.5"><circle cx="235.6" cy="2107.5" r="14.8"/><circle cx="340.8" cy="2056.5" r="14.8"/><circle cx="446" cy="1896.5" r="14.8"/><circle cx="551.2" cy="1851.5" r="14.8"/><circle cx="656.4" cy="1803.6" r="14.8"/><circle cx="761.6" cy="1796.3" r="14.8"/><circle cx="866.8" cy="1444.4" r="14.8"/><circle cx="972" cy="1406.7" r="14.8"/><circle cx="1077.2" cy="1267.2" r="14.8"/><circle cx="1182.4" cy="1265" r="14.8"/></g>
<text x="709" y="2233.8" font-size="60.9" text-anchor="middle">Gene</text>
<text x="120.5" y="1654.8" font-size="60.9" text-anchor="middle" transform="rotate(-90 120.5 1654.8)">Clustering coefficient</text>
<line x1="289.3" y1="1265.8" x2="434.6" y2="1265.8" stroke="#ff0000" stroke-width="15.5" stroke-dasharray="30 30"/>
<circle cx="361.9" cy="1265.8" r="14.5" fill="none" stroke="#ff0000" stroke-width="2.2"/>
<text x="450.6" y="1286.8" font-size="60.9" text-anchor="start">AD genes</text>
<line x1="289.3" y1="1338" x2="434.6" y2="1338" stroke="#0000ff" stroke-width="15.5" stroke-dasharray="30 30"/>
<circle cx="361.9" cy="1338" r="14.5" fill="none" stroke="#0000ff" stroke-width="2.2"/>
<text x="450.6" y="1359" font-size="60.9" text-anchor="start">Random genes</text>
<rect x="1448.8" y="1198.2" width="952.5" height="905.9" fill="none" stroke="#000" stroke-width="2.9"/>
<line x1="1554.6" y1="2104.1" x2="1554.6" y2="2093.5" stroke="#000" stroke-width="2.4"/>
<line x1="1554.6" y1="1198.2" x2="1554.6" y2="1207.8" stroke="#000" stroke-width="2.4"/>
<line x1="1660.5" y1="2104.1" x2="1660.5" y2="2093.5" stroke="#000" stroke-width="2.4"/>
<line x1="1660.5" y1="1198.2" x2="1660.5" y2="1207.8" stroke="#000" stroke-width="2.4"/>
<line x1="1766.3" y1="2104.1" x2="1766.3" y2="2093.5" stroke="#000" stroke-width="2.4"/>
<line x1="1766.3" y1="1198.2" x2="1766.3" y2="1207.8" stroke="#000" stroke-width="2.4"/>
<line x1="1872.1" y1="2104.1" x2="1872.1" y2="2093.5" stroke="#000" stroke-width="2.4"/>
<line x1="1872.1" y1="1198.2" x2="1872.1" y2="1207.8" stroke="#000" stroke-width="2.4"/>
<line x1="1978" y1="2104.1" x2="1978" y2="2093.5" stroke="#000" stroke-width="2.4"/>
<line x1="1978" y1="1198.2" x2="1978" y2="1207.8" stroke="#000" stroke-width="2.4"/>
<line x1="2083.8" y1="2104.1" x2="2083.8" y2="2093.5" stroke="#000" stroke-width="2.4"/>
<line x1="2083.8" y1="1198.2" x2="2083.8" y2="1207.8" stroke="#000" stroke-width="2.4"/>
<line x1="2189.6" y1="2104.1" x2="2189.6" y2="2093.5" stroke="#000" stroke-width="2.4"/>
<line x1="2189.6" y1="1198.2" x2="2189.6" y2="1207.8" stroke="#000" stroke-width="2.4"/>
<line x1="2295.5" y1="2104.1" x2="2295.5" y2="2093.5" stroke="#000" stroke-width="2.4"/>
<line x1="2295.5" y1="1198.2" x2="2295.5" y2="1207.8" stroke="#000" stroke-width="2.4"/>
<text x="1433" y="2121.7" font-size="50.6" text-anchor="end">0</text>
<text x="2416.9" y="2120.9" font-size="50.6" text-anchor="start">0</text>
<text x="1448.8" y="2163.8" font-size="50.6" text-anchor="middle">1</text>
<text x="1554.6" y="2163.8" font-size="50.6" text-anchor="middle">2</text>
<text x="1660.5" y="2163.8" font-size="50.6" text-anchor="middle">3</text>
<text x="1766.3" y="2163.8" font-size="50.6" text-anchor="middle">4</text>
<text x="1872.1" y="2163.8" font-size="50.6" text-anchor="middle">5</text>
<text x="1978" y="2163.8" font-size="50.6" text-anchor="middle">6</text>
<text x="2083.8" y="2163.8" font-size="50.6" text-anchor="middle">7</text>
<text x="2189.6" y="2163.8" font-size="50.6" text-anchor="middle">8</text>
<text x="2295.5" y="2163.8" font-size="50.6" text-anchor="middle">9</text>
<text x="2401.3" y="2163.8" font-size="50.6" text-anchor="middle">10</text>
<g clip-path="url(#c4)" stroke="#ff0000" fill="#ff0000"><line x1="2401.3" y1="1839.2" x2="2401.3" y2="2300" stroke-width="15.8"/><rect x="2391.3" y="1831.5" width="20" height="15.5" stroke="none"/><polyline points="1448.8,2104.4 1554.6,2104.4 1660.5,2104.4 1766.3,2104.4 1872.1,2104.4 1978,2104.4 2083.8,2104.4 2189.6,2104.4 2295.5,2103.5 2401.3,2101" fill="none" stroke-width="15.5" stroke-dasharray="29.4 31.3" stroke-linejoin="miter"/></g>
<g fill="none" stroke="#ff0000" stroke-width="15.5"><circle cx="1448.8" cy="2104.4" r="14.8"/><circle cx="1554.6" cy="2104.4" r="14.8"/><circle cx="1660.5" cy="2104.4" r="14.8"/><circle cx="1766.3" cy="2104.4" r="14.8"/><circle cx="1872.1" cy="2104.4" r="14.8"/><circle cx="1978" cy="2104.4" r="14.8"/><circle cx="2083.8" cy="2104.4" r="14.8"/><circle cx="2189.6" cy="2104.4" r="14.8"/><circle cx="2295.5" cy="2103.5" r="14.8"/><circle cx="2401.3" cy="2101" r="14.8"/></g>
<rect x="1448.8" y="1198.2" width="952.5" height="905.9" fill="none" stroke="#000" stroke-width="2.9"/>
<line x1="1554.6" y1="2104.1" x2="1554.6" y2="2093.5" stroke="#000" stroke-width="2.4"/>
<line x1="1554.6" y1="1198.2" x2="1554.6" y2="1207.8" stroke="#000" stroke-width="2.4"/>
<line x1="1660.5" y1="2104.1" x2="1660.5" y2="2093.5" stroke="#000" stroke-width="2.4"/>
<line x1="1660.5" y1="1198.2" x2="1660.5" y2="1207.8" stroke="#000" stroke-width="2.4"/>
<line x1="1766.3" y1="2104.1" x2="1766.3" y2="2093.5" stroke="#000" stroke-width="2.4"/>
<line x1="1766.3" y1="1198.2" x2="1766.3" y2="1207.8" stroke="#000" stroke-width="2.4"/>
<line x1="1872.1" y1="2104.1" x2="1872.1" y2="2093.5" stroke="#000" stroke-width="2.4"/>
<line x1="1872.1" y1="1198.2" x2="1872.1" y2="1207.8" stroke="#000" stroke-width="2.4"/>
<line x1="1978" y1="2104.1" x2="1978" y2="2093.5" stroke="#000" stroke-width="2.4"/>
<line x1="1978" y1="1198.2" x2="1978" y2="1207.8" stroke="#000" stroke-width="2.4"/>
<line x1="2083.8" y1="2104.1" x2="2083.8" y2="2093.5" stroke="#000" stroke-width="2.4"/>
<line x1="2083.8" y1="1198.2" x2="2083.8" y2="1207.8" stroke="#000" stroke-width="2.4"/>
<line x1="2189.6" y1="2104.1" x2="2189.6" y2="2093.5" stroke="#000" stroke-width="2.4"/>
<line x1="2189.6" y1="1198.2" x2="2189.6" y2="1207.8" stroke="#000" stroke-width="2.4"/>
<line x1="2295.5" y1="2104.1" x2="2295.5" y2="2093.5" stroke="#000" stroke-width="2.4"/>
<line x1="2295.5" y1="1198.2" x2="2295.5" y2="1207.8" stroke="#000" stroke-width="2.4"/>
<g clip-path="url(#c4)" stroke="#00ff00" fill="#00ff00"><line x1="1448.8" y1="2087.8" x2="1448.8" y2="2300" stroke-width="15.8"/><rect x="1438.8" y="2080" width="20" height="15.5" stroke="none"/><line x1="1554.6" y1="2086.8" x2="1554.6" y2="2300" stroke-width="15.8"/><rect x="1544.6" y="2079" width="20" height="15.5" stroke="none"/><line x1="1660.5" y1="2085.8" x2="1660.5" y2="2300" stroke-width="15.8"/><rect x="1650.5" y="2078" width="20" height="15.5" stroke="none"/><line x1="1766.3" y1="2015.2" x2="1766.3" y2="2300" stroke-width="15.8"/><rect x="1756.3" y="2007.5" width="20" height="15.5" stroke="none"/><line x1="1872.1" y1="2048.2" x2="1872.1" y2="2300" stroke-width="15.8"/><rect x="1862.1" y="2040.5" width="20" height="15.5" stroke="none"/><line x1="1978" y1="2040" x2="1978" y2="2300" stroke-width="15.8"/><rect x="1968" y="2032.2" width="20" height="15.5" stroke="none"/><line x1="2083.8" y1="1978.8" x2="2083.8" y2="2300" stroke-width="15.8"/><rect x="2073.8" y="1971" width="20" height="15.5" stroke="none"/><line x1="2189.6" y1="1703.5" x2="2189.6" y2="2300" stroke-width="15.8"/><rect x="2179.6" y="1695.8" width="20" height="15.5" stroke="none"/><line x1="2295.5" y1="1963.2" x2="2295.5" y2="2300" stroke-width="15.8"/><rect x="2285.5" y="1955.5" width="20" height="15.5" stroke="none"/><line x1="2401.3" y1="1000" x2="2401.3" y2="1838.5" stroke-width="15.8"/><rect x="2391.3" y="1830.8" width="20" height="15.5" stroke="none"/><polyline points="1448.8,2097.8 1554.6,2096.4 1660.5,2095.4 1766.3,2077.4 1872.1,2071.5 1978,2055 2083.8,2054 2189.6,2051.2 2295.5,2042.9 2401.3,1517.4" fill="none" stroke-width="15.5" stroke-dasharray="29.4 31.3" stroke-linejoin="miter"/></g>
<g fill="none" stroke="#00ff00" stroke-width="15.5"><circle cx="1448.8" cy="2097.8" r="14.8"/><circle cx="1554.6" cy="2096.4" r="14.8"/><circle cx="1660.5" cy="2095.4" r="14.8"/><circle cx="1766.3" cy="2077.4" r="14.8"/><circle cx="1872.1" cy="2071.5" r="14.8"/><circle cx="1978" cy="2055" r="14.8"/><circle cx="2083.8" cy="2054" r="14.8"/><circle cx="2189.6" cy="2051.2" r="14.8"/><circle cx="2295.5" cy="2042.9" r="14.8"/><circle cx="2401.3" cy="1517.4" r="14.8"/></g>
<text x="1925.1" y="2227.4" font-size="60.9" text-anchor="middle">Gene</text>
<text x="1375.5" y="1651.2" font-size="60.9" text-anchor="middle" transform="rotate(-90 1375.5 1651.2)">Betweenness centrality</text>
<line x1="1502.5" y1="1265.8" x2="1647.8" y2="1265.8" stroke="#ff0000" stroke-width="15.5" stroke-dasharray="30 30"/>
<circle cx="1575.1" cy="1265.8" r="14.5" fill="none" stroke="#ff0000" stroke-width="2.2"/>
<text x="1663.8" y="1286.8" font-size="60.9" text-anchor="start">AD genes</text>
<line x1="1502.5" y1="1338" x2="1647.8" y2="1338" stroke="#00ff00" stroke-width="15.5" stroke-dasharray="30 30"/>
<circle cx="1575.1" cy="1338" r="14.5" fill="none" stroke="#00ff00" stroke-width="2.2"/>
<text x="1663.8" y="1359" font-size="60.9" text-anchor="start">Random genes</text>
<text transform="translate(2470.9 1344.6) rotate(-90)" font-size="50.6"><tspan x="0">x</tspan><tspan x="20.8">1</tspan><tspan x="50.7">0</tspan><tspan x="76.5" dy="-25.5" font-size="41">&#8722;</tspan><tspan x="97.8" dy="25.5">3</tspan></text>
<rect x="231.4" y="2318.4" width="945.3" height="911.9" fill="none" stroke="#000" stroke-width="2.9"/>
<line x1="231.4" y1="2371.3" x2="241" y2="2371.3" stroke="#000" stroke-width="2.6"/>
<line x1="1176.7" y1="2371.3" x2="1166.7" y2="2371.3" stroke="#000" stroke-width="2.6"/>
<text x="216.9" y="2388.9" font-size="50.6" text-anchor="end">180</text>
<line x1="231.4" y1="2471.2" x2="241" y2="2471.2" stroke="#000" stroke-width="2.6"/>
<line x1="1176.7" y1="2471.2" x2="1166.7" y2="2471.2" stroke="#000" stroke-width="2.6"/>
<text x="216.9" y="2488.8" font-size="50.6" text-anchor="end">160</text>
<line x1="231.4" y1="2571.1" x2="241" y2="2571.1" stroke="#000" stroke-width="2.6"/>
<line x1="1176.7" y1="2571.1" x2="1166.7" y2="2571.1" stroke="#000" stroke-width="2.6"/>
<text x="216.9" y="2588.7" font-size="50.6" text-anchor="end">140</text>
<line x1="231.4" y1="2671" x2="241" y2="2671" stroke="#000" stroke-width="2.6"/>
<line x1="1176.7" y1="2671" x2="1166.7" y2="2671" stroke="#000" stroke-width="2.6"/>
<text x="216.9" y="2688.6" font-size="50.6" text-anchor="end">120</text>
<line x1="231.4" y1="2770.9" x2="241" y2="2770.9" stroke="#000" stroke-width="2.6"/>
<line x1="1176.7" y1="2770.9" x2="1166.7" y2="2770.9" stroke="#000" stroke-width="2.6"/>
<text x="216.9" y="2788.5" font-size="50.6" text-anchor="end">100</text>
<line x1="231.4" y1="2870.8" x2="241" y2="2870.8" stroke="#000" stroke-width="2.6"/>
<line x1="1176.7" y1="2870.8" x2="1166.7" y2="2870.8" stroke="#000" stroke-width="2.6"/>
<text x="216.9" y="2888.4" font-size="50.6" text-anchor="end">80</text>
<line x1="231.4" y1="2970.7" x2="241" y2="2970.7" stroke="#000" stroke-width="2.6"/>
<line x1="1176.7" y1="2970.7" x2="1166.7" y2="2970.7" stroke="#000" stroke-width="2.6"/>
<text x="216.9" y="2988.3" font-size="50.6" text-anchor="end">60</text>
<line x1="231.4" y1="3070.6" x2="241" y2="3070.6" stroke="#000" stroke-width="2.6"/>
<line x1="1176.7" y1="3070.6" x2="1166.7" y2="3070.6" stroke="#000" stroke-width="2.6"/>
<text x="216.9" y="3088.2" font-size="50.6" text-anchor="end">40</text>
<line x1="231.4" y1="3170.5" x2="241" y2="3170.5" stroke="#000" stroke-width="2.6"/>
<line x1="1176.7" y1="3170.5" x2="1166.7" y2="3170.5" stroke="#000" stroke-width="2.6"/>
<text x="216.9" y="3188.1" font-size="50.6" text-anchor="end">20</text>
<text x="104.8" y="2774.4" font-size="60.9" text-anchor="middle" transform="rotate(-90 104.8 2774.4)">Degree</text>
<line x1="467.7" y1="3188" x2="467.7" y2="3051.5" stroke="#000" stroke-width="2.9" stroke-dasharray="29.8 30.4"/>
<line x1="467.7" y1="2882.1" x2="467.7" y2="2801" stroke="#000" stroke-width="2.9" stroke-dasharray="29.8 30.4"/>
<line x1="432.2" y1="3188" x2="503.2" y2="3188" stroke="#000" stroke-width="3.2"/>
<line x1="432.2" y1="2801" x2="503.2" y2="2801" stroke="#000" stroke-width="3.2"/>
<rect x="396.9" y="2882.1" width="141.6" height="169.4" fill="none" stroke="#0000ff" stroke-width="3.1"/>
<line x1="396.9" y1="2977.7" x2="538.5" y2="2977.7" stroke="#ff0000" stroke-width="3.3"/>
<line x1="940.4" y1="3101.5" x2="940.4" y2="2981.5" stroke="#000" stroke-width="2.9" stroke-dasharray="29.8 30.4"/>
<line x1="940.4" y1="2573.5" x2="940.4" y2="2359.4" stroke="#000" stroke-width="2.9" stroke-dasharray="29.8 30.4"/>
<line x1="904.9" y1="3101.5" x2="975.9" y2="3101.5" stroke="#000" stroke-width="3.2"/>
<line x1="904.9" y1="2359.4" x2="975.9" y2="2359.4" stroke="#000" stroke-width="3.2"/>
<rect x="869.6" y="2573.5" width="141.6" height="408" fill="none" stroke="#0000ff" stroke-width="3.1"/>
<line x1="869.6" y1="2891.8" x2="1011.2" y2="2891.8" stroke="#ff0000" stroke-width="3.3"/>
<text x="467.7" y="3287.9" font-size="60.9" text-anchor="middle">AD genes</text>
<text x="954.9" y="3287.9" font-size="60.9" text-anchor="middle">Random genes</text>
<text x="581" y="2428.3" font-size="81" text-anchor="start">P=0.001</text>
<rect x="1439" y="2318.4" width="951.3" height="911.9" fill="none" stroke="#000" stroke-width="2.9"/>
<line x1="1439" y1="2328.6" x2="1448.6" y2="2328.6" stroke="#000" stroke-width="2.6"/>
<line x1="2390.3" y1="2328.6" x2="2380.3" y2="2328.6" stroke="#000" stroke-width="2.6"/>
<text x="1424" y="2346.2" font-size="50.6" text-anchor="end">4.5</text>
<line x1="1439" y1="2458.1" x2="1448.6" y2="2458.1" stroke="#000" stroke-width="2.6"/>
<line x1="2390.3" y1="2458.1" x2="2380.3" y2="2458.1" stroke="#000" stroke-width="2.6"/>
<text x="1424" y="2475.7" font-size="50.6" text-anchor="end">4</text>
<line x1="1439" y1="2587.6" x2="1448.6" y2="2587.6" stroke="#000" stroke-width="2.6"/>
<line x1="2390.3" y1="2587.6" x2="2380.3" y2="2587.6" stroke="#000" stroke-width="2.6"/>
<text x="1424" y="2605.2" font-size="50.6" text-anchor="end">3.5</text>
<line x1="1439" y1="2717.1" x2="1448.6" y2="2717.1" stroke="#000" stroke-width="2.6"/>
<line x1="2390.3" y1="2717.1" x2="2380.3" y2="2717.1" stroke="#000" stroke-width="2.6"/>
<text x="1424" y="2734.7" font-size="50.6" text-anchor="end">3</text>
<line x1="1439" y1="2846.6" x2="1448.6" y2="2846.6" stroke="#000" stroke-width="2.6"/>
<line x1="2390.3" y1="2846.6" x2="2380.3" y2="2846.6" stroke="#000" stroke-width="2.6"/>
<text x="1424" y="2864.2" font-size="50.6" text-anchor="end">2.5</text>
<line x1="1439" y1="2976.1" x2="1448.6" y2="2976.1" stroke="#000" stroke-width="2.6"/>
<line x1="2390.3" y1="2976.1" x2="2380.3" y2="2976.1" stroke="#000" stroke-width="2.6"/>
<text x="1424" y="2993.7" font-size="50.6" text-anchor="end">2</text>
<line x1="1439" y1="3105.6" x2="1448.6" y2="3105.6" stroke="#000" stroke-width="2.6"/>
<line x1="2390.3" y1="3105.6" x2="2380.3" y2="3105.6" stroke="#000" stroke-width="2.6"/>
<text x="1424" y="3123.2" font-size="50.6" text-anchor="end">1.5</text>
<text x="1325" y="2774.4" font-size="60.9" text-anchor="middle" transform="rotate(-90 1325 2774.4)">Average shortest path length</text>
<line x1="1676.8" y1="3188" x2="1676.8" y2="2976.2" stroke="#000" stroke-width="2.9" stroke-dasharray="29.8 30.4"/>
<line x1="1676.8" y1="2491.5" x2="1676.8" y2="2359.4" stroke="#000" stroke-width="2.9" stroke-dasharray="29.8 30.4"/>
<line x1="1641.3" y1="3188" x2="1712.3" y2="3188" stroke="#000" stroke-width="3.2"/>
<line x1="1641.3" y1="2359.4" x2="1712.3" y2="2359.4" stroke="#000" stroke-width="3.2"/>
<rect x="1606" y="2491.5" width="141.6" height="484.7" fill="none" stroke="#0000ff" stroke-width="3.1"/>
<line x1="1606" y1="2708.9" x2="1747.6" y2="2708.9" stroke="#ff0000" stroke-width="3.3"/>
<line x1="2152.5" y1="2694.9" x2="2152.5" y2="2609.4" stroke="#000" stroke-width="2.9" stroke-dasharray="29.8 30.4"/>
<line x1="2152.5" y1="2531.1" x2="2152.5" y2="2471.8" stroke="#000" stroke-width="2.9" stroke-dasharray="29.8 30.4"/>
<line x1="2117" y1="2694.9" x2="2188" y2="2694.9" stroke="#000" stroke-width="3.2"/>
<line x1="2117" y1="2471.8" x2="2188" y2="2471.8" stroke="#000" stroke-width="3.2"/>
<rect x="2081.7" y="2531.1" width="141.6" height="78.3" fill="none" stroke="#0000ff" stroke-width="3.1"/>
<line x1="2081.7" y1="2575.5" x2="2223.3" y2="2575.5" stroke="#ff0000" stroke-width="3.3"/>
<line x1="2137.4" y1="2759.9" x2="2167.4" y2="2759.9" stroke="#ff0000" stroke-width="2.8"/>
<line x1="2152.4" y1="2744.9" x2="2152.4" y2="2774.9" stroke="#ff0000" stroke-width="2.8"/>
<text x="1676.8" y="3287.9" font-size="60.9" text-anchor="middle">AD genes</text>
<text x="2167" y="3287.9" font-size="60.9" text-anchor="middle">Random genes</text>
<text x="1786.3" y="2427.3" font-size="81" text-anchor="start">P=0.026</text>
<rect x="227.9" y="3461.5" width="948.8" height="906.6" fill="none" stroke="#000" stroke-width="2.9"/>
<line x1="227.9" y1="3479" x2="237.5" y2="3479" stroke="#000" stroke-width="2.6"/>
<line x1="1176.7" y1="3479" x2="1166.7" y2="3479" stroke="#000" stroke-width="2.6"/>
<text x="212.7" y="3496.6" font-size="50.6" text-anchor="end">1</text>
<line x1="227.9" y1="3609.7" x2="237.5" y2="3609.7" stroke="#000" stroke-width="2.6"/>
<line x1="1176.7" y1="3609.7" x2="1166.7" y2="3609.7" stroke="#000" stroke-width="2.6"/>
<text x="212.7" y="3627.3" font-size="50.6" text-anchor="end">0.9</text>
<line x1="227.9" y1="3740.4" x2="237.5" y2="3740.4" stroke="#000" stroke-width="2.6"/>
<line x1="1176.7" y1="3740.4" x2="1166.7" y2="3740.4" stroke="#000" stroke-width="2.6"/>
<text x="212.7" y="3758" font-size="50.6" text-anchor="end">0.8</text>
<line x1="227.9" y1="3871.1" x2="237.5" y2="3871.1" stroke="#000" stroke-width="2.6"/>
<line x1="1176.7" y1="3871.1" x2="1166.7" y2="3871.1" stroke="#000" stroke-width="2.6"/>
<text x="212.7" y="3888.7" font-size="50.6" text-anchor="end">0.7</text>
<line x1="227.9" y1="4001.8" x2="237.5" y2="4001.8" stroke="#000" stroke-width="2.6"/>
<line x1="1176.7" y1="4001.8" x2="1166.7" y2="4001.8" stroke="#000" stroke-width="2.6"/>
<text x="212.7" y="4019.4" font-size="50.6" text-anchor="end">0.6</text>
<line x1="227.9" y1="4132.5" x2="237.5" y2="4132.5" stroke="#000" stroke-width="2.6"/>
<line x1="1176.7" y1="4132.5" x2="1166.7" y2="4132.5" stroke="#000" stroke-width="2.6"/>
<text x="212.7" y="4150.1" font-size="50.6" text-anchor="end">0.5</text>
<line x1="227.9" y1="4263.2" x2="237.5" y2="4263.2" stroke="#000" stroke-width="2.6"/>
<line x1="1176.7" y1="4263.2" x2="1166.7" y2="4263.2" stroke="#000" stroke-width="2.6"/>
<text x="212.7" y="4280.8" font-size="50.6" text-anchor="end">0.4</text>
<text x="114.1" y="3914.8" font-size="60.9" text-anchor="middle" transform="rotate(-90 114.1 3914.8)">Clustering coefficient</text>
<line x1="465.1" y1="4327.9" x2="465.1" y2="4120.6" stroke="#000" stroke-width="2.9" stroke-dasharray="29.8 30.4"/>
<line x1="465.1" y1="3640.2" x2="465.1" y2="3502.8" stroke="#000" stroke-width="2.9" stroke-dasharray="29.8 30.4"/>
<line x1="429.6" y1="4327.9" x2="500.6" y2="4327.9" stroke="#000" stroke-width="3.2"/>
<line x1="429.6" y1="3502.8" x2="500.6" y2="3502.8" stroke="#000" stroke-width="3.2"/>
<rect x="394.3" y="3640.2" width="141.6" height="480.4" fill="none" stroke="#0000ff" stroke-width="3.1"/>
<line x1="394.3" y1="4026" x2="535.9" y2="4026" stroke="#ff0000" stroke-width="3.3"/>
<line x1="939.5" y1="4096.8" x2="939.5" y2="4056.1" stroke="#000" stroke-width="2.9" stroke-dasharray="29.8 30.4"/>
<line x1="939.5" y1="3899.6" x2="939.5" y2="3871.7" stroke="#000" stroke-width="2.9" stroke-dasharray="29.8 30.4"/>
<line x1="904" y1="4096.8" x2="975" y2="4096.8" stroke="#000" stroke-width="3.2"/>
<line x1="904" y1="3871.7" x2="975" y2="3871.7" stroke="#000" stroke-width="3.2"/>
<rect x="868.7" y="3899.6" width="141.6" height="156.5" fill="none" stroke="#0000ff" stroke-width="3.1"/>
<line x1="868.7" y1="3978" x2="1010.3" y2="3978" stroke="#ff0000" stroke-width="3.3"/>
<line x1="924.5" y1="4319.7" x2="954.5" y2="4319.7" stroke="#ff0000" stroke-width="2.8"/>
<line x1="939.5" y1="4304.7" x2="939.5" y2="4334.7" stroke="#ff0000" stroke-width="2.8"/>
<text x="465.1" y="4424.5" font-size="60.9" text-anchor="middle">AD genes</text>
<text x="954" y="4424.5" font-size="60.9" text-anchor="middle">Random genes</text>
<text x="581" y="3571.7" font-size="81" text-anchor="start">P=0.004</text>
<rect x="1442.3" y="3457.6" width="948" height="910.5" fill="none" stroke="#000" stroke-width="2.9"/>
<line x1="1442.3" y1="3459.5" x2="1451.9" y2="3459.5" stroke="#000" stroke-width="2.6"/>
<line x1="2390.3" y1="3459.5" x2="2380.3" y2="3459.5" stroke="#000" stroke-width="2.6"/>
<text x="1427.3" y="3477.1" font-size="50.6" text-anchor="end">0.025</text>
<line x1="1442.3" y1="3633.8" x2="1451.9" y2="3633.8" stroke="#000" stroke-width="2.6"/>
<line x1="2390.3" y1="3633.8" x2="2380.3" y2="3633.8" stroke="#000" stroke-width="2.6"/>
<text x="1427.3" y="3651.4" font-size="50.6" text-anchor="end">0.02</text>
<line x1="1442.3" y1="3808.1" x2="1451.9" y2="3808.1" stroke="#000" stroke-width="2.6"/>
<line x1="2390.3" y1="3808.1" x2="2380.3" y2="3808.1" stroke="#000" stroke-width="2.6"/>
<text x="1427.3" y="3825.7" font-size="50.6" text-anchor="end">0.015</text>
<line x1="1442.3" y1="3982.4" x2="1451.9" y2="3982.4" stroke="#000" stroke-width="2.6"/>
<line x1="2390.3" y1="3982.4" x2="2380.3" y2="3982.4" stroke="#000" stroke-width="2.6"/>
<text x="1427.3" y="4000" font-size="50.6" text-anchor="end">0.01</text>
<line x1="1442.3" y1="4156.7" x2="1451.9" y2="4156.7" stroke="#000" stroke-width="2.6"/>
<line x1="2390.3" y1="4156.7" x2="2380.3" y2="4156.7" stroke="#000" stroke-width="2.6"/>
<text x="1427.3" y="4174.3" font-size="50.6" text-anchor="end">0.005</text>
<line x1="1442.3" y1="4331.1" x2="1451.9" y2="4331.1" stroke="#000" stroke-width="2.6"/>
<line x1="2390.3" y1="4331.1" x2="2380.3" y2="4331.1" stroke="#000" stroke-width="2.6"/>
<text x="1427.3" y="4348.7" font-size="50.6" text-anchor="end">0</text>
<text x="1275.5" y="3912.9" font-size="60.9" text-anchor="middle" transform="rotate(-90 1275.5 3912.9)">Betweenness centrality</text>
<line x1="1679.3" y1="4322.1" x2="1679.3" y2="4318.2" stroke="#000" stroke-width="2.9" stroke-dasharray="29.8 30.4"/>
<line x1="1679.3" y1="4258" x2="1679.3" y2="4245.4" stroke="#000" stroke-width="2.9" stroke-dasharray="29.8 30.4"/>
<line x1="1643.8" y1="4322.1" x2="1714.8" y2="4322.1" stroke="#000" stroke-width="3.2"/>
<line x1="1643.8" y1="4245.4" x2="1714.8" y2="4245.4" stroke="#000" stroke-width="3.2"/>
<rect x="1608.5" y="4258" width="141.6" height="60.2" fill="none" stroke="#0000ff" stroke-width="3.1"/>
<line x1="1608.5" y1="4275" x2="1750.1" y2="4275" stroke="#ff0000" stroke-width="3.3"/>
<line x1="2153.3" y1="4327.4" x2="2153.3" y2="4308.5" stroke="#000" stroke-width="2.9" stroke-dasharray="29.8 30.4"/>
<line x1="2153.3" y1="4275" x2="2153.3" y2="4269.7" stroke="#000" stroke-width="2.9" stroke-dasharray="29.8 30.4"/>
<line x1="2117.8" y1="4327.4" x2="2188.8" y2="4327.4" stroke="#000" stroke-width="3.2"/>
<line x1="2117.8" y1="4269.7" x2="2188.8" y2="4269.7" stroke="#000" stroke-width="3.2"/>
<rect x="2082.5" y="4275" width="141.6" height="33.5" fill="none" stroke="#0000ff" stroke-width="3.1"/>
<line x1="2082.5" y1="4306.5" x2="2224.1" y2="4306.5" stroke="#ff0000" stroke-width="3.3"/>
<line x1="1663.8" y1="3499.4" x2="1693.8" y2="3499.4" stroke="#ff0000" stroke-width="2.8"/>
<line x1="1678.8" y1="3484.4" x2="1678.8" y2="3514.4" stroke="#ff0000" stroke-width="2.8"/>
<text x="1679.3" y="4424.5" font-size="60.9" text-anchor="middle">AD genes</text>
<text x="2167.8" y="4424.5" font-size="60.9" text-anchor="middle">Random genes</text>
<text x="1786.3" y="3567.3" font-size="81" text-anchor="start">P=0.04</text>
<text x="57.5" y="99" font-size="102" text-anchor="start">A</text>
<text x="56.3" y="2349.8" font-size="102" text-anchor="start">B</text>
</svg>
</body></html>
